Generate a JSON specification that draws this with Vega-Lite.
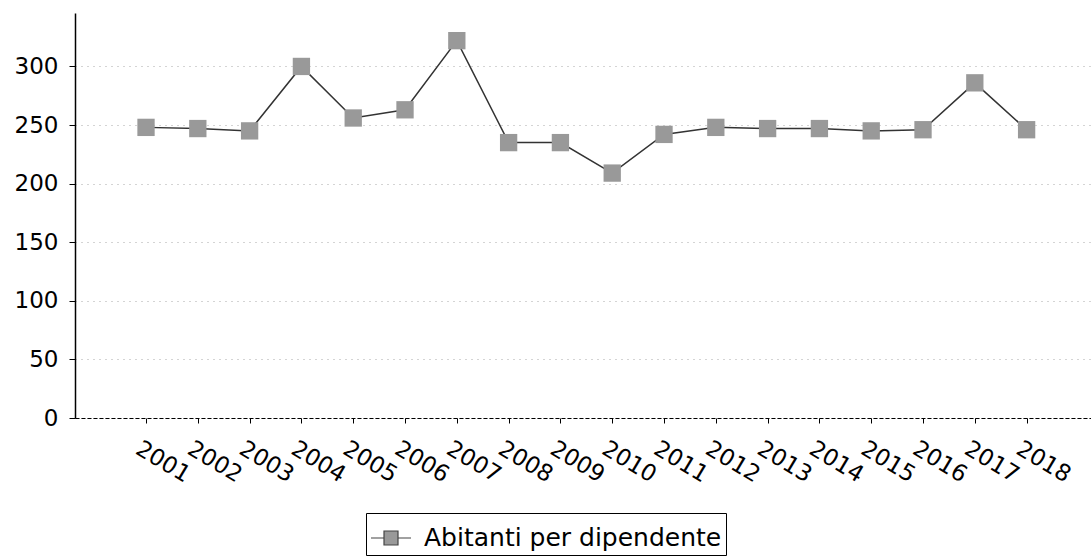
{
  "$schema": "https://vega.github.io/schema/vega-lite/v6.json",
  "autosize": {"type": "none"},
  "width": 1016,
  "height": 405,
  "padding": {"left": 75, "top": 13, "right": 0, "bottom": 141},
  "background": "white",
  "config": {
    "font": "DejaVu Sans",
    "view": {"stroke": null}
  },
  "data": {
    "values": [
      {"anno": 2001, "valore": 248, "serie": "Abitanti per dipendente"},
      {"anno": 2002, "valore": 247, "serie": "Abitanti per dipendente"},
      {"anno": 2003, "valore": 245, "serie": "Abitanti per dipendente"},
      {"anno": 2004, "valore": 300, "serie": "Abitanti per dipendente"},
      {"anno": 2005, "valore": 256, "serie": "Abitanti per dipendente"},
      {"anno": 2006, "valore": 263, "serie": "Abitanti per dipendente"},
      {"anno": 2007, "valore": 322, "serie": "Abitanti per dipendente"},
      {"anno": 2008, "valore": 235, "serie": "Abitanti per dipendente"},
      {"anno": 2009, "valore": 235, "serie": "Abitanti per dipendente"},
      {"anno": 2010, "valore": 209, "serie": "Abitanti per dipendente"},
      {"anno": 2011, "valore": 242, "serie": "Abitanti per dipendente"},
      {"anno": 2012, "valore": 248, "serie": "Abitanti per dipendente"},
      {"anno": 2013, "valore": 247, "serie": "Abitanti per dipendente"},
      {"anno": 2014, "valore": 247, "serie": "Abitanti per dipendente"},
      {"anno": 2015, "valore": 245, "serie": "Abitanti per dipendente"},
      {"anno": 2016, "valore": 246, "serie": "Abitanti per dipendente"},
      {"anno": 2017, "valore": 286, "serie": "Abitanti per dipendente"},
      {"anno": 2018, "valore": 246, "serie": "Abitanti per dipendente"}
    ]
  },
  "encoding": {
    "x": {
      "field": "anno",
      "type": "quantitative",
      "scale": {"domain": [1999.629, 2019.243], "nice": false, "zero": false},
      "axis": {
        "title": null,
        "values": [2001, 2002, 2003, 2004, 2005, 2006, 2007, 2008, 2009, 2010, 2011, 2012, 2013, 2014, 2015, 2016, 2017, 2018],
        "format": "d",
        "labelAngle": 31,
        "labelAlign": "left",
        "labelBaseline": "top",
        "labelFontSize": 23,
        "labelColor": "black",
        "labelPadding": 14,
        "labelOffset": -3,
        "labelOverlap": false,
        "labelFlush": false,
        "tickSize": 5,
        "tickColor": "black",
        "domainColor": "black",
        "domainDash": [4, 2],
        "domainWidth": 1,
        "grid": false
      }
    },
    "y": {
      "field": "valore",
      "type": "quantitative",
      "scale": {"domain": [0, 345.6], "nice": false, "zero": true},
      "axis": {
        "title": null,
        "values": [0, 50, 100, 150, 200, 250, 300],
        "labelFontSize": 23,
        "labelColor": "black",
        "labelPadding": 11,
        "labelFlush": false,
        "tickSize": 6,
        "tickColor": "black",
        "domainColor": "black",
        "domainWidth": 1.5,
        "grid": true,
        "gridColor": "#a8a8a8",
        "gridDash": [1, 5],
        "gridWidth": 1
      }
    }
  },
  "layer": [
    {
      "mark": {"type": "line", "color": "#333333", "strokeWidth": 1.5}
    },
    {
      "mark": {"type": "point", "shape": "square", "filled": true, "size": 300, "opacity": 1},
      "encoding": {
        "color": {
          "field": "serie",
          "type": "nominal",
          "scale": {"range": ["#999999"]},
          "legend": {
            "title": null,
            "orient": "none",
            "legendX": 291,
            "legendY": 500,
            "labelFontSize": 25,
            "labelColor": "black",
            "labelOffset": 12,
            "labelLimit": 0,
            "symbolType": "M-1,0H-0.35M0.35,0H1M-0.35,-0.35H0.35V0.35H-0.35Z",
            "symbolSize": 1600,
            "symbolStrokeColor": "#444444",
            "symbolStrokeWidth": 1.2,
            "symbolFillColor": "#999999",
            "strokeColor": "black",
            "padding": 4,
            "cornerRadius": 0
          }
        }
      }
    }
  ]
}
